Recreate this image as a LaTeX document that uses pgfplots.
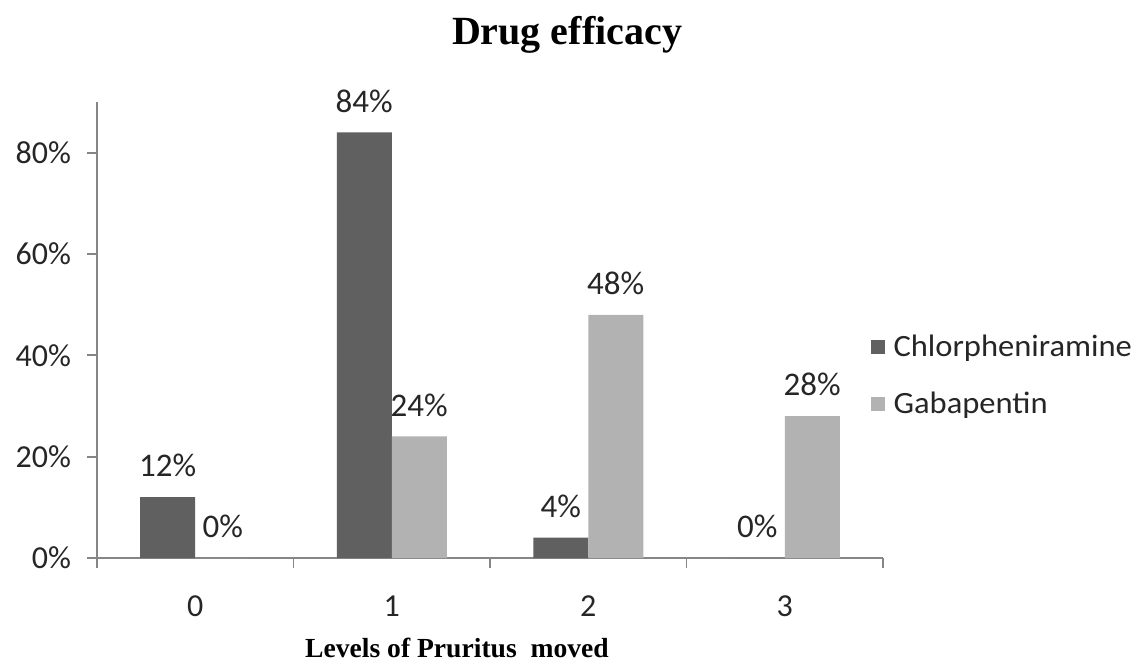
\documentclass[border=0pt]{standalone}
\usepackage{pgfplots}
\pgfplotsset{compat=1.18}
\usepackage{fontspec}
\setmainfont{Carlito}
\newfontfamily\timesfont{Liberation Serif}

\definecolor{chlor}{HTML}{606060}
\definecolor{gaba}{HTML}{B2B2B2}
\definecolor{axisgray}{HTML}{868686}

\pgfplotsset{
    sqlegend/.style={legend image code/.code={\fill[##1] (0pt,-3.5pt) rectangle (7pt,3.5pt);}},
}

% one reference pixel = 0.5pt
\begin{document}
\begin{tikzpicture}
\begin{axis}[
    scale only axis,
    width=393pt, height=228pt,
    ybar=0pt, bar width=27.5pt,
    xmin=-0.5, xmax=3.5,
    ymin=0, ymax=90,
    /pgf/number format/assume math mode=true,
    axis x line*=bottom, axis y line*=left,
    axis line style={axisgray, line width=0.9pt},
    tick align=outside,
    major tick length=5pt,
    xtick={0,1,2,3},
    xticklabels={0,1,2,3},
    xtick style={draw=none},
    extra x ticks={-0.5,0.5,1.5,2.5,3.5},
    extra x tick labels={},
    extra x tick style={xtick style={draw=axisgray, line width=0.9pt}},
    ytick={0,20,40,60,80},
    yticklabels={0\%,20\%,40\%,60\%,80\%},
    ytick style={draw=axisgray, line width=0.9pt},
    tick label style={font=\fontsize{16}{19}\selectfont, text=black!85},
    yticklabel style={xshift=-4.5pt},
    xticklabel style={yshift=-10.5pt},
    nodes near coords={\pgfmathprintnumber{\pgfplotspointmeta}\%},
    every node near coord/.append style={font=\fontsize{16.5}{19}\selectfont, text=black!85, yshift=6.5pt},
    title={Drug efficacy},
    title style={font=\timesfont\bfseries\fontsize{20}{23}\selectfont,
        at={(axis description cs:0.598,1.122)}, anchor=center},
    xlabel={Levels of Pruritus\ \ moved},
    xlabel style={font=\timesfont\bfseries\fontsize{13.8}{17}\selectfont,
        at={(axis description cs:0.458,0)}, anchor=center, yshift=-45pt},
    legend style={at={(axis description cs:0.976,0.40)}, anchor=west,
        draw=none, fill=none,
        font=\fontsize{15.5}{18}\selectfont\addfontfeature{FakeStretch=1.05},
        row sep=12pt, text=black!85,
        nodes={inner xsep=4.5pt}},
    legend cell align=left,
]
\addplot[fill=chlor, draw=none, sqlegend]
    coordinates {(0,12) (1,84) (2,4) (3,0)};
\addlegendentry{Chlorpheniramine}
\addplot[fill=gaba, draw=none, sqlegend]
    coordinates {(0,0) (1,24) (2,48) (3,28)};
\addlegendentry{Gabapentin}
\end{axis}
\pgfresetboundingbox
\path[use as bounding box] (-48.5pt,-53pt) rectangle (524pt,279pt);
\end{tikzpicture}
\end{document}
